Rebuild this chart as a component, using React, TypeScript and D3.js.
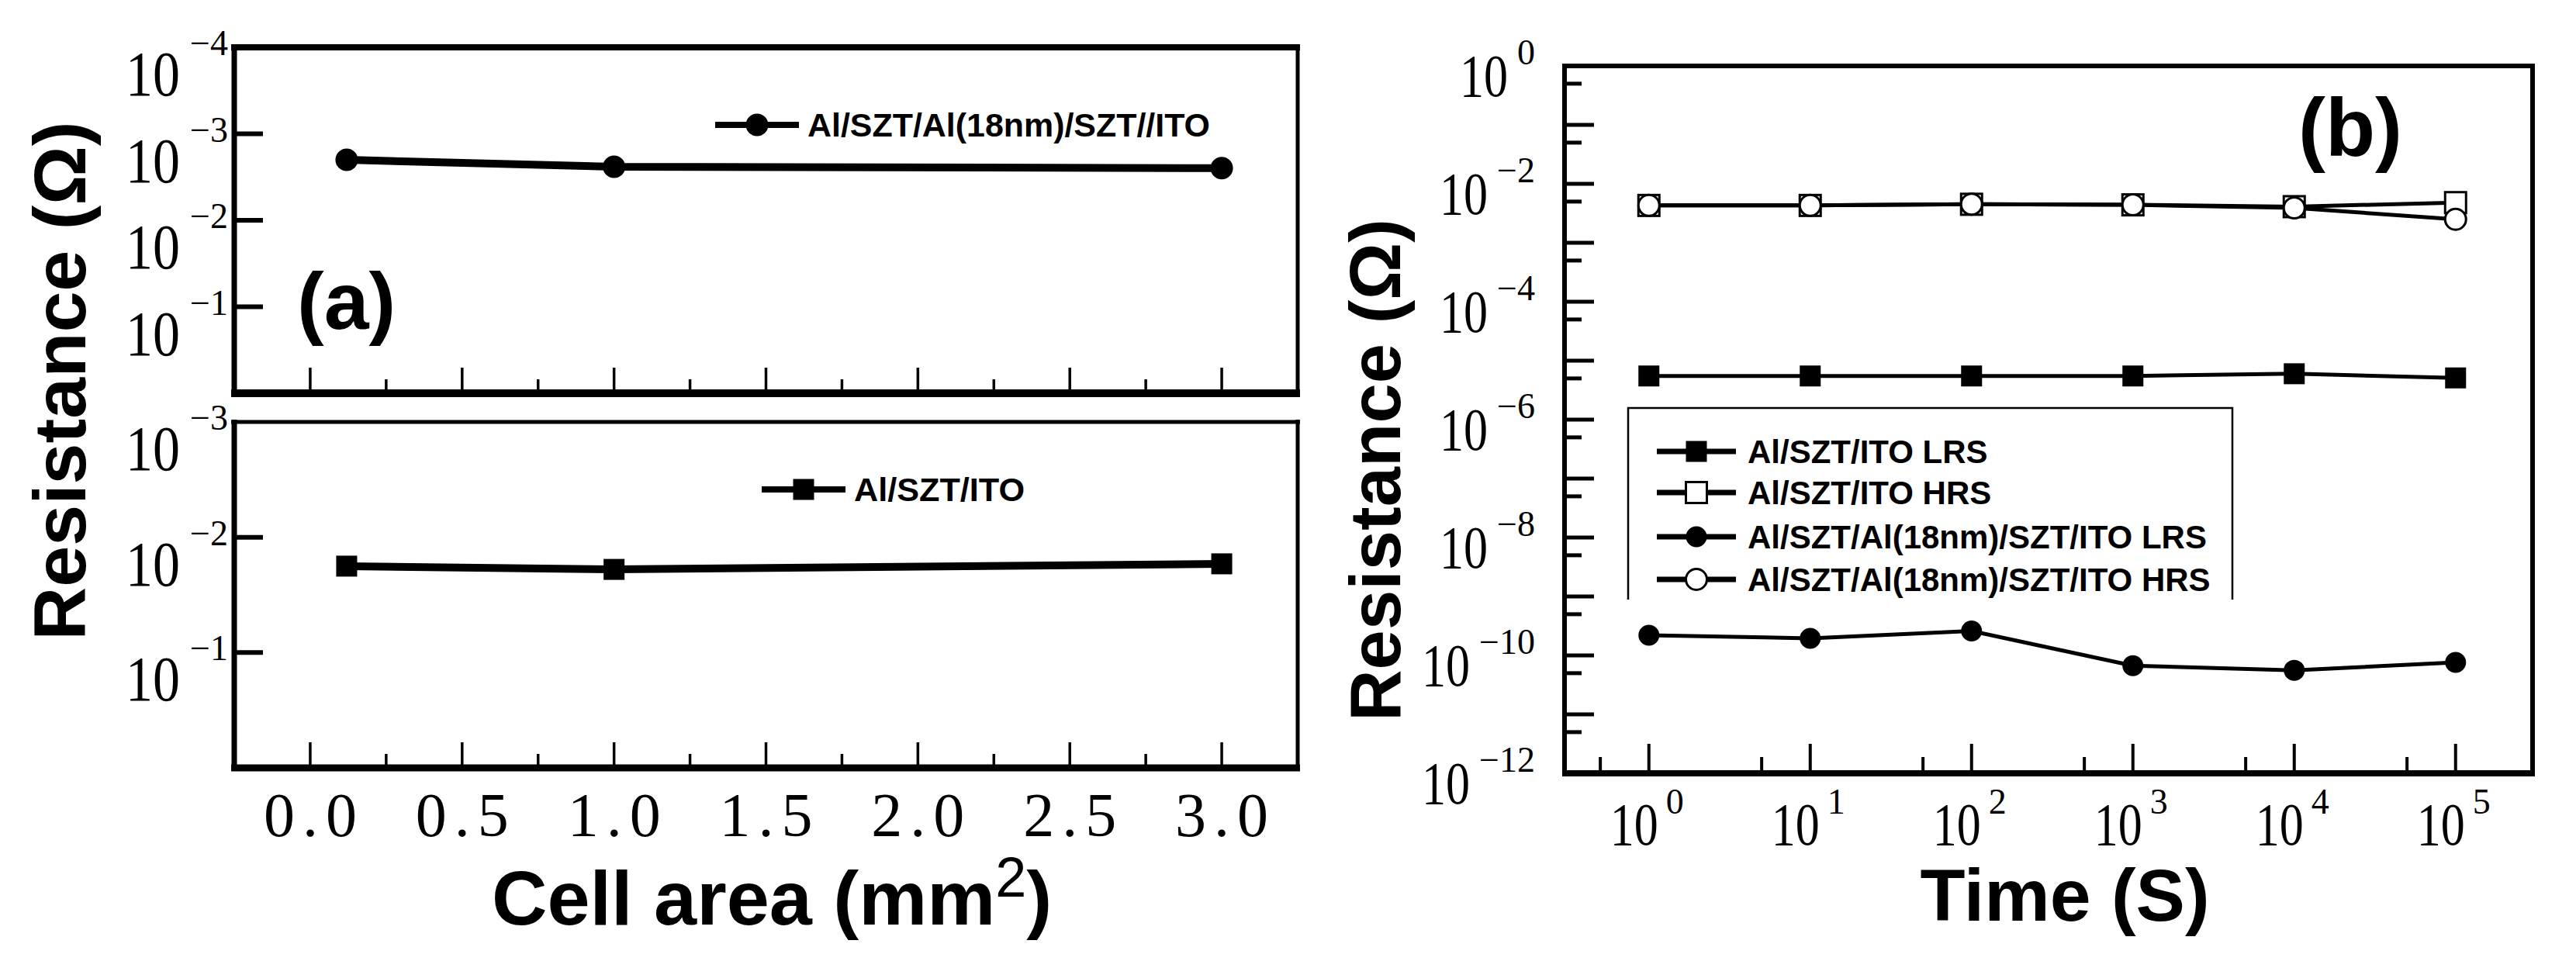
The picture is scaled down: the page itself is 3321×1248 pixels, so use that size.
import React from "react";
import * as d3 from "d3";

// panel (a): resistance vs cell area
const areaX = [0.12, 1.0, 3.0];
const areaDoubleLayer = [2.0e-3, 2.4e-3, 2.5e-3]; // Al/SZT/Al(18nm)/SZT//ITO
const areaSingleLayer = [1.78e-2, 1.9e-2, 1.7e-2]; // Al/SZT/ITO
const areaMajorTicks = [0, 0.5, 1, 1.5, 2, 2.5, 3];
const areaMinorTicks = [0.25, 0.75, 1.25, 1.75, 2.25, 2.75];
const areaTickLabels = ["0.0", "0.5", "1.0", "1.5", "2.0", "2.5", "3.0"];
const topPanelExps = [-4, -3, -2, -1];
const bottomPanelExps = [-3, -2, -1];

// panel (b): retention
const timeX = [1, 10, 100, 1000, 10000, 100000];
const singleLRS = [5.5e-6, 5.5e-6, 5.5e-6, 5.5e-6, 6.0e-6, 5.1e-6];
const singleHRS = [4.3e-3, 4.3e-3, 4.5e-3, 4.4e-3, 4.1e-3, 4.8e-3];
const doubleLRS = [2.2e-10, 1.95e-10, 2.6e-10, 6.7e-11, 5.6e-11, 7.6e-11];
const doubleHRS = [4.3e-3, 4.3e-3, 4.5e-3, 4.4e-3, 3.9e-3, 2.5e-3];
const timeExps = [0, 1, 2, 3, 4, 5];
const resExps = [0, -2, -4, -6, -8, -10, -12];
const legendNames = [
  "Al/SZT/ITO LRS",
  "Al/SZT/ITO HRS",
  "Al/SZT/Al(18nm)/SZT/ITO LRS",
  "Al/SZT/Al(18nm)/SZT/ITO HRS",
];

const SANS = "'Liberation Sans', Arial, sans-serif";
const SERIF = "'Liberation Serif', 'Times New Roman', serif";

function Marker({ type, x, y, size = 27 }) {
  const h = size / 2;
  if (type === "square" || type === "squareOpen")
    return (
      <rect x={x - h} y={y - h} width={size} height={size}
        fill={type === "square" ? "#000" : "#fff"} stroke="#000" strokeWidth={type === "square" ? 0 : 3} />
    );
  return (
    <circle cx={x} cy={y} r={h} fill={type === "circle" ? "#000" : "#fff"}
      stroke="#000" strokeWidth={type === "circle" ? 0 : 3} />
  );
}

export default function App() {
  const width = 3321;
  const height = 1248;

  // panel (a) scales
  const xA = d3.scaleLinear().domain([-0.25, 3.25]).range([302, 1673]);
  const yTop = d3.scaleLog().domain([1e-4, 1]).range([61, 507]);
  const yBot = d3.scaleLog().domain([1e-3, 1]).range([544, 990]);

  // panel (b) scales
  const xB = d3.scaleLog().domain([0.3, 3e5]).range([2017, 3265]);
  const yB = d3.scaleLog().domain([1e-12, 1]).range([997, 85]);

  const lineTop = d3.line().x((d, i) => xA(areaX[i])).y(d => yTop(d));
  const lineBot = d3.line().x((d, i) => xA(areaX[i])).y(d => yBot(d));
  const lineB = d3.line().x((d, i) => xB(timeX[i])).y(d => yB(d));

  const seriesB = [
    { values: singleLRS, marker: "square" },
    { values: singleHRS, marker: "squareOpen" },
    { values: doubleLRS, marker: "circle" },
    { values: doubleHRS, marker: "circleOpen" },
  ];

  const decadesB = d3.range(-12, 1);
  const halfDecadesB = d3.range(-11, 1).map(e => 0.5 * Math.pow(10, e));
  const xDecades = d3.range(0, 6).map(e => Math.pow(10, e));
  const xHalf = d3.range(0, 6).map(e => 0.5 * Math.pow(10, e));

  const xAxisA = (yBase) => (
    <g stroke="#000" strokeWidth={3.5}>
      {areaMajorTicks.map(t => <line key={"M" + t} x1={xA(t)} x2={xA(t)} y1={yBase} y2={yBase - 33} />)}
      {areaMinorTicks.map(t => <line key={"m" + t} x1={xA(t)} x2={xA(t)} y1={yBase} y2={yBase - 18} />)}
    </g>
  );

  const logLabelA = (e, y) => (
    <g key={e} fontFamily={SERIF}>
      <text x={232} y={y + 62} fontSize={82} textAnchor="end" textLength={70} lengthAdjust="spacingAndGlyphs">10</text>
      <text x={294} y={y + 10} fontSize={46} textAnchor="end">{"\u2212" + Math.abs(e)}</text>
    </g>
  );

  return (
    <svg width={width} height={height} style={{ position: "absolute", left: 0, top: 0, background: "#fff" }}
      fontFamily={SANS}>
      <rect x={0} y={0} width={width} height={height} fill="#fff" />

      {/* ---------- panel (a), top ---------- */}
      <g>
        {xAxisA(yTop.range()[1])}
        <g stroke="#000" strokeWidth={6}>
          {topPanelExps.slice(1).map(e => (
            <line key={e} x1={302} x2={339} y1={yTop(Math.pow(10, e))} y2={yTop(Math.pow(10, e))} />
          ))}
        </g>
        <line x1={298} x2={1676} y1={61} y2={61} stroke="#000" strokeWidth={8} />
        <line x1={298} x2={1676} y1={507} y2={507} stroke="#000" strokeWidth={10} />
        <line x1={302} x2={302} y1={57} y2={511} stroke="#000" strokeWidth={7} />
        <line x1={1673} x2={1673} y1={57} y2={511} stroke="#000" strokeWidth={5} />
        {topPanelExps.map(e => logLabelA(e, yTop(Math.pow(10, e))))}
        <path d={lineTop(areaDoubleLayer)} fill="none" stroke="#000" strokeWidth={10} />
        {areaDoubleLayer.map((d, i) => <Marker key={i} type="circle" x={xA(areaX[i])} y={yTop(d)} size={29} />)}
        <line x1={922} x2={1030} y1={161} y2={161} stroke="#000" strokeWidth={8} />
        <Marker type="circle" x={976} y={161} size={29} />
        <text x={1041} y={176} fontSize={43} fontWeight="bold" textLength={519} lengthAdjust="spacingAndGlyphs">
          Al/SZT/Al(18nm)/SZT//ITO
        </text>
        <text x={383} y={424} fontSize={104} fontWeight="bold">(a)</text>
      </g>

      {/* ---------- panel (a), bottom ---------- */}
      <g>
        {xAxisA(yBot.range()[1])}
        <g stroke="#000" strokeWidth={6}>
          {bottomPanelExps.slice(1).map(e => (
            <line key={e} x1={302} x2={339} y1={yBot(Math.pow(10, e))} y2={yBot(Math.pow(10, e))} />
          ))}
        </g>
        <line x1={298} x2={1676} y1={544} y2={544} stroke="#000" strokeWidth={5} />
        <line x1={298} x2={1676} y1={990} y2={990} stroke="#000" strokeWidth={9} />
        <line x1={302} x2={302} y1={541} y2={994} stroke="#000" strokeWidth={7} />
        <line x1={1673} x2={1673} y1={541} y2={994} stroke="#000" strokeWidth={5} />
        {bottomPanelExps.map(e => logLabelA(e, yBot(Math.pow(10, e))))}
        <path d={lineBot(areaSingleLayer)} fill="none" stroke="#000" strokeWidth={10} />
        {areaSingleLayer.map((d, i) => <Marker key={i} type="square" x={xA(areaX[i])} y={yBot(d)} size={27} />)}
        <line x1={982} x2={1090} y1={631} y2={631} stroke="#000" strokeWidth={8} />
        <Marker type="square" x={1036} y={631} size={27} />
        <text x={1101} y={646} fontSize={43} fontWeight="bold" textLength={220} lengthAdjust="spacingAndGlyphs">
          Al/SZT/ITO
        </text>
        {areaMajorTicks.map((t, i) => (
          <text key={t} x={xA(t)} y={1078} fontFamily={SERIF} fontSize={80} textAnchor="middle"
            textLength={120}>{areaTickLabels[i]}</text>
        ))}
        <text x={634} y={1192} fontSize={99} fontWeight="bold">
          Cell area (mm
          <tspan fontSize={72} fontWeight="normal" dy={-36}>2</tspan>
          <tspan dy={36}>)</tspan>
        </text>
        <text transform="translate(110,491) rotate(-90)" fontSize={95} fontWeight="bold" textAnchor="middle"
          textLength={669} lengthAdjust="spacingAndGlyphs">Resistance (Ω)</text>
      </g>

      {/* ---------- panel (b) ---------- */}
      <g>
        <g stroke="#000" strokeWidth={5}>
          {decadesB.map(e => {
            const y = yB(Math.pow(10, e));
            return <line key={"d" + e} x1={2017} x2={2055} y1={y} y2={y} />;
          })}
          {halfDecadesB.map(v => <line key={"h" + v} x1={2017} x2={2039} y1={yB(v)} y2={yB(v)} />)}
        </g>
        <g stroke="#000" strokeWidth={4}>
          {xDecades.map(v => <line key={"x" + v} x1={xB(v)} x2={xB(v)} y1={997} y2={959} />)}
          {xHalf.map(v => <line key={"xh" + v} x1={xB(v)} x2={xB(v)} y1={997} y2={976} />)}
        </g>
        <line x1={2014} x2={3268} y1={85} y2={85} stroke="#000" strokeWidth={6} />
        <line x1={2014} x2={3268} y1={997} y2={997} stroke="#000" strokeWidth={8} />
        <line x1={2017} x2={2017} y1={82} y2={1001} stroke="#000" strokeWidth={6} />
        <line x1={3265} x2={3265} y1={82} y2={1001} stroke="#000" strokeWidth={6} />

        {resExps.map(e => {
          const y = yB(Math.pow(10, e));
          const sup = e === 0 ? "0" : "\u2212" + Math.abs(e);
          const supW = e === 0 ? 23 : Math.abs(e) >= 10 ? 72 : 49;
          return (
            <g key={e} fontFamily={SERIF}>
              <text x={1979 - supW - 12} y={y + 39} fontSize={78} textAnchor="end" textLength={62}
                lengthAdjust="spacingAndGlyphs">10</text>
              <text x={1979} y={y - 2} fontSize={46} textAnchor="end">{sup}</text>
            </g>
          );
        })}
        {timeExps.map(e => {
          const x = xB(Math.pow(10, e));
          return (
            <g key={e} fontFamily={SERIF}>
              <text x={x + 12} y={1089} fontSize={78} textAnchor="end" textLength={62}
                lengthAdjust="spacingAndGlyphs">10</text>
              <text x={x + 22} y={1049} fontSize={46}>{e}</text>
            </g>
          );
        })}

        {seriesB.map((s, k) => (
          <path key={k} d={lineB(s.values)} fill="none" stroke="#000" strokeWidth={5} />
        ))}
        {seriesB.map((s, k) => (
          <g key={"m" + k}>
            {s.values.map((v, i) => <Marker key={i} type={s.marker} x={xB(timeX[i])} y={yB(v)} size={27} />)}
          </g>
        ))}

        <path d="M2099,773 V526 H2878 V773" fill="none" stroke="#000" strokeWidth={2.5} />
        {seriesB.map((s, k) => {
          const cy = [582, 635, 692, 747][k];
          return (
            <g key={"l" + k}>
              <line x1={2136} x2={2238} y1={cy} y2={cy} stroke="#000" strokeWidth={7} />
              <Marker type={s.marker} x={2187} y={cy} size={27} />
              <text x={2253} y={cy + 15} fontSize={42} fontWeight="bold">{legendNames[k]}</text>
            </g>
          );
        })}

        <text x={2963} y={201} fontSize={105} fontWeight="bold">(b)</text>
        <text x={2662} y={1187} fontSize={95} fontWeight="bold" textAnchor="middle">Time (S)</text>
        <text transform="translate(1805,606) rotate(-90)" fontSize={93} fontWeight="bold" textAnchor="middle"
          textLength={648} lengthAdjust="spacingAndGlyphs">Resistance (Ω)</text>
      </g>
    </svg>
  );
}
